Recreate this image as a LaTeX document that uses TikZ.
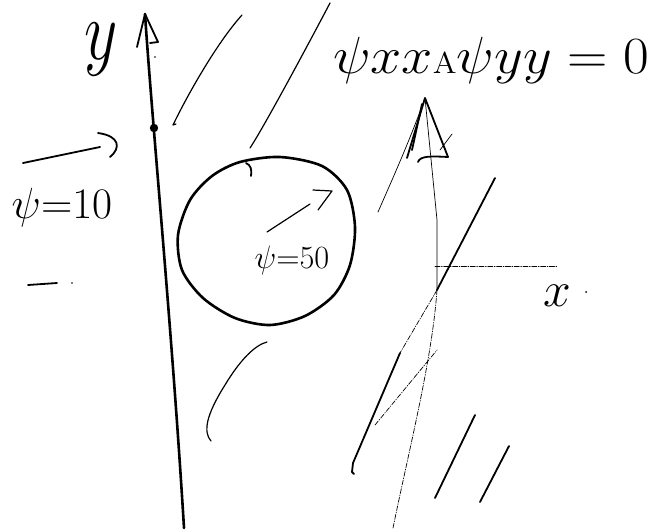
\documentclass[tikz,border=0pt]{standalone}
\usepackage{amsmath}
\usetikzlibrary{calc}
\begin{document}
\begin{tikzpicture}[x=1pt, y=-1pt, line cap=round, line join=round]
\tikzset{bold/.style={line width=2.6pt}}
\tikzset{mid/.style={line width=1.8pt}}
\tikzset{stream/.style={line width=1.2pt}}
\tikzset{faint/.style={line width=0.7pt}}
\tikzset{guide/.style={line width=0.7pt, dash pattern=on 5pt off 1.5pt on 0.8pt off 1.5pt}}
\tikzset{hand/.style={inner sep=0pt, outer sep=0pt, font=\Huge}}
\useasboundingbox (0,0) rectangle (663,531);
% y axis
\coordinate (ybot) at (184,528);
\coordinate (ytip) at (145,14);
\draw[bold] (ybot) .. controls (172,330) and (152,120) .. (ytip);
\draw[mid] (137,47) -- (ytip) -- (158,42) -- (150,43);
\fill (154,128) circle (4.2pt);
\fill (155,57) circle (0.9pt);
\node[hand] (ylab) at (101,50) {\scalebox{2.6}[3.4]{$y$}};
% left stream
\coordinate (la) at (23,163);
\coordinate (lb) at (100,147);
\draw[mid] (la) -- (lb);
\draw[mid] (98,133) .. controls (120,136) and (121,148) .. (110,157);
\node[hand] (psiten) at (62,208) {\scalebox{1.75}{$\psi{=}10$}};
\draw[mid] (28,285) -- (57,283);
\fill (72,283) circle (0.8pt);
% body
\draw[bold] plot[smooth cycle] coordinates {(240,162) (280,157) (322,166) (347,190) (355,227) (350,265) (334,295) (305,316) (270,325) (235,318) (203,298) (182,270) (178,235) (190,200) (212,176)};
\draw[mid] (246,163) .. controls (251,165) and (252,170) .. (251,176);
\coordinate (ia) at (267,232);
\coordinate (ib) at (310,204);
\draw[stream] (ia) -- (ib);
\draw[stream] (313,190) -- (332,191) -- (318,210);
\node[hand] (psififty) at (292,260) {\scalebox{1.3}{$\psi{=}50$}};
% streamlines
\draw[stream] (176,124) -- (173,125) .. controls (185,100) and (215,45) .. (242,15);
\draw[stream] (250,148) .. controls (262,130) and (300,60) .. (330,3);
\draw[stream] (211,441) .. controls (203,432) and (206,415) .. (225,385) .. controls (240,360) and (255,345) .. (267,342);
\draw[faint] (378,212) .. controls (392,180) and (410,140) .. (425,98);
% second axis
\coordinate (xbot) at (393,528);
\coordinate (xcross) at (437,290);
\coordinate (xtip) at (425,98);
\draw[guide] (xbot) .. controls (410,445) and (432,360) .. (xcross);
\draw[faint] (xcross) -- (437,220) -- (xtip);
\draw[mid] (407,158) -- (xtip) -- (448,157);
\draw[mid] (412,150) -- (422,104);
\draw[mid] (418,162) .. controls (420,156) and (430,156) .. (448,157);
\draw[faint] (440,150) -- (452,134);
\coordinate (xend) at (558,266);
\draw[guide] (435,266) -- (xend);
\node[hand] (xlab) at (557,296) {\scalebox{2.0}{$x$}};
\fill (586,292) circle (1pt);
% oblique line
\coordinate (da) at (495,178);
\coordinate (db) at (400,353);
\draw[mid] (da) -- (xcross);
\draw[guide] (xcross) -- (db);
\draw[mid] (db) -- (353,463) -- (352,472) -- (354,474);
\draw[guide] (375,425) -- (437,350);
\draw[mid] (435,498) -- (475,415);
\draw[mid] (480,502) -- (509,446);
% equation
\node[hand, anchor=base west] (eqn) at (333,73) {\scalebox{2.25}[2.1]{$\psi xx${\Large A}$\psi yy=0$}};
\end{tikzpicture}
\end{document}
